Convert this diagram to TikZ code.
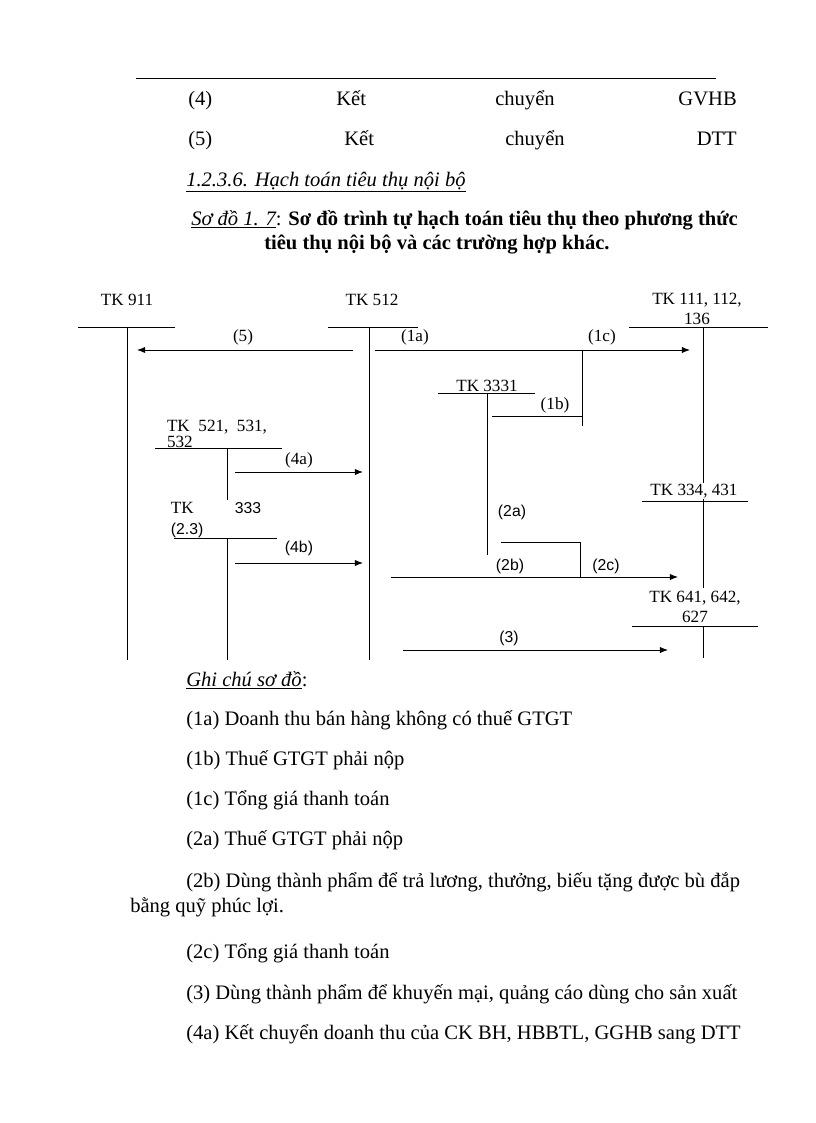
\documentclass[tikz,border=0pt]{standalone}
\usepackage{fontspec}
\setmainfont{Liberation Serif}
\setsansfont{Liberation Sans}
\usetikzlibrary{arrows,arrows.meta,positioning,calc}

\begin{document}
\begin{tikzpicture}[
x=0.7295pt,y=-0.7295pt,
txt/.style={
  anchor=base west,
  inner sep=0pt,
  font=\fontsize{15}{17}\selectfont
},
txtr/.style={
  txt,
  anchor=base east
},
tk/.style={
  inner sep=1pt,
  align=center,
  font=\fontsize{12.5}{15}\selectfont
},
lbl/.style={
  inner sep=0pt,
  font=\fontsize{12.5}{15}\selectfont
},
slbl/.style={
  inner sep=0pt,
  font=\sffamily\fontsize{11.5}{14}\selectfont
},
tline/.style={
  line width=0.6pt
},
flow/.style={
  line width=0.6pt,
  -{Latex[length=6pt,width=4.6pt]}
}
]
\useasboundingbox (0,0) rectangle (816,1123);

% top text
\coordinate (rl) at (136,78);
\coordinate (rr) at (716,78);
\draw[line width=0.5pt] (rl) -- (rr);
\node[txt] (n4) at (188,105) {(4)};
\node[txt] (n4k) at (336,105) {Kết};
\node[txt] (n4c) at (495,105) {chuyển};
\node[txtr] (n4g) at (737,105) {GVHB};
\node[txt] (n5) at (188,145) {(5)};
\node[txt] (n5k) at (344,145) {Kết};
\node[txt] (n5c) at (505,145) {chuyển};
\node[txtr] (n5d) at (737,145) {DTT};
\node[txt] (sec) at (186,186) {\textit{\underline{1.2.3.6. Hạch toán tiêu thụ nội bộ}}};
\node[txt] (title1) at (191,225) {\textit{\underline{Sơ đồ 1. 7}}: \textbf{Sơ đồ trình tự hạch toán tiêu thụ theo phương thức}};
\node[txt] (title2) at (264,249) {\textbf{tiêu thụ nội bộ và các trường hợp khác.}};

% T accounts
\node[tk] (tk911) at (127,300) {TK 911};
\node[tk] (tk512) at (372,300) {TK 512};
\node[tk] (tk111) at (697,309) {TK 111, 112,\\[0pt]136};
\node[tk] (tk3331) at (487,386) {TK 3331};
\node[tk,align=left] (tk521) at (217,434) {TK\ \ 521,\ \ 531,\\[-3pt]532};
\node[tk,align=left] (tk333) at (216,520) {TK\hspace{30pt}{\sffamily\fontsize{11.5}{14}\selectfont 333}\\[1pt]{\sffamily\fontsize{11.5}{14}\selectfont (2.3)}};
\node[tk] (tk641) at (695,607) {TK 641, 642,\\[0pt]627};

\coordinate (h911a) at (78,327);   \coordinate (h911b) at (175,327);
\coordinate (v911a) at (127,327);  \coordinate (v911b) at (127,660);
\coordinate (h512a) at (328,327);  \coordinate (h512b) at (418,327);
\coordinate (v512a) at (369,327);  \coordinate (v512b) at (369,660);
\coordinate (h111a) at (629,327);  \coordinate (h111b) at (768,327);
\coordinate (v111a) at (703,327);  \coordinate (v111b) at (703,588);
\coordinate (h334a) at (642,501);  \coordinate (h334b) at (748,501);
\coordinate (h641a) at (632,626);  \coordinate (h641b) at (758,626);
\coordinate (v641a) at (703,626);  \coordinate (v641b) at (703,658);
\coordinate (h3331a) at (438,393); \coordinate (h3331b) at (535,393);
\coordinate (v3331a) at (487,393); \coordinate (v3331b) at (487,555);
\coordinate (h521a) at (155,448);  \coordinate (h521b) at (282,448);
\coordinate (v521a) at (227,448);  \coordinate (v521b) at (227,500);
\coordinate (h333a) at (174,538);  \coordinate (h333b) at (277,538);
\coordinate (v333a) at (227,538);  \coordinate (v333b) at (227,660);

\draw[tline] (h911a) -- (h911b) (v911a) -- (v911b);
\draw[tline] (h512a) -- (h512b) (v512a) -- (v512b);
\draw[tline] (h111a) -- (h111b) (v111a) -- (v111b);
\draw[tline] (h334a) -- (h334b);
\draw[tline] (h641a) -- (h641b) (v641a) -- (v641b);
\draw[tline] (h3331a) -- (h3331b) (v3331a) -- (v3331b);
\draw[tline] (h521a) -- (h521b) (v521a) -- (v521b);
\draw[tline] (h333a) -- (h333b) (v333a) -- (v333b);
\node[tk,fill=white] (tk334) at (694,491) {TK 334, 431};

% flows
\coordinate (f5a) at (353,350);  \coordinate (f5b) at (137,350);
\coordinate (f1a) at (375,350);  \coordinate (f1c) at (690,350);
\coordinate (j1b) at (582,350);  \coordinate (j1e) at (582,426);
\coordinate (f1b) at (492,416);  \coordinate (k1b) at (582,416);
\coordinate (f4a) at (235,472);  \coordinate (t4a) at (363,472);
\coordinate (f4b) at (235,563);  \coordinate (t4b) at (363,563);
\coordinate (f2a) at (501,542);  \coordinate (k2a) at (580,542);
\coordinate (j2a) at (580,577);
\coordinate (f2b) at (391,577);  \coordinate (t2c) at (678,577);
\coordinate (f3) at (403,650);   \coordinate (t3) at (668,650);

\draw[flow] (f5a) -- (f5b);
\draw[flow] (f1a) -- (f1c);
\draw[tline] (j1b) -- (j1e);
\draw[tline] (f1b) -- (k1b);
\draw[flow] (f4a) -- (t4a);
\draw[flow] (f4b) -- (t4b);
\draw[tline] (f2a) -- (k2a) -- (j2a);
\draw[flow] (f2b) -- (t2c);
\draw[flow] (f3) -- (t3);

\node[lbl] (l5) at (243,337) {(5)};
\node[lbl] (l1a) at (415,337) {(1a)};
\node[lbl] (l1c) at (602,337) {(1c)};
\node[lbl] (l1b) at (555,405) {(1b)};
\node[lbl] (l4a) at (299,460) {(4a)};
\node[slbl] (l4b) at (299,548) {(4b)};
\node[slbl] (l2a) at (512,512) {(2a)};
\node[slbl] (l2b) at (510,566) {(2b)};
\node[slbl] (l2c) at (606,566) {(2c)};
\node[slbl] (l3) at (509,638) {(3)};

% notes
\node[txt] (ghi) at (186,686) {\textit{\underline{Ghi chú sơ đồ}}:};
\node[txt] (g1a) at (186,725) {(1a) Doanh thu bán hàng không có thuế GTGT};
\node[txt] (g1b) at (186,765) {(1b) Thuế GTGT phải nộp};
\node[txt] (g1c) at (186,805) {(1c) Tổng giá thanh toán};
\node[txt] (g2a) at (186,845) {(2a) Thuế GTGT phải nộp};
\node[txt] (g2b) at (186,887) {(2b) Dùng thành phẩm để trả lương, thưởng, biếu tặng được bù đắp};
\node[txt] (g2bb) at (130,912) {bằng quỹ phúc lợi.};
\node[txt] (g2c) at (186,958) {(2c) Tổng giá thanh toán};
\node[txt] (g3) at (186,999) {(3) Dùng thành phẩm để khuyến mại, quảng cáo dùng cho sản xuất};
\node[txt] (g4a) at (186,1039) {(4a) Kết chuyển doanh thu của CK BH, HBBTL, GGHB sang DTT};
\end{tikzpicture}
\end{document}
